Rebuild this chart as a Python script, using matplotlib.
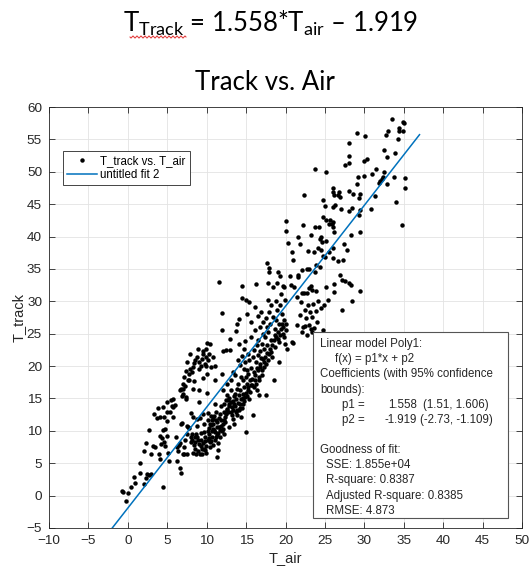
import numpy as np
import matplotlib
matplotlib.use("Agg")
import matplotlib.pyplot as plt
from matplotlib.patches import Rectangle

# Data (T_air, T_track)
t_air = [
    33.55, 34.95, 35.0, 34.4, 34.35, 34.95, 33.0, 32.75, 29.05, 30.1, 34.3, 28.0,
    32.55, 33.9, 32.9, 28.05, 28.05, 30.4, 29.9, 27.6, 23.7, 25.2, 31.5, 32.55,
    31.0, 29.9, 29.2, 33.8, 35.1, 32.4, 32.2, 32.0, 31.9, 29.1, 32.9, 35.1,
    26.0, 26.0, 26.75, 26.1, 26.6, 26.85, 28.1, 28.6, 29.3, 29.45, 31.35, 22.4,
    24.8, 26.3, 26.0, 24.95, 34.0, 27.0, 28.1, 28.4, 29.4, 29.35, 30.9, 20.0,
    24.8, 25.15, 25.65, 25.9, 26.0, 25.5, 22.2, 23.8, 24.3, 26.05, 26.15, 34.75,
    29.45, 20.0, 21.6, 23.25, 24.55, 24.4, 24.65, 25.1, 21.8, 28.3, 20.3, 27.45,
    24.1, 24.55, 25.5, 26.05, 27.85, 20.8, 22.8, 23.65, 24.8, 25.0, 26.0, 26.65,
    27.25, 21.0, 23.9, 24.4, 22.05, 22.75, 23.0, 23.7, 21.55, 21.55, 20.6, 19.3,
    26.85, 27.2, 27.6, 28.0, 28.3, 26.2, 20.7, 21.1, 19.8, 23.25, 23.0, 23.35,
    23.85, 25.2, 26.15, 29.45, 22.1, 22.4, 22.7,
    25.35, 28.4, 27.13, 17.6, 17.95, 17.95, 19.0,
    21.42, 21.97, 22.9, 23.45, 24.16, 22.47, 23.11, 23.87, 24.47, 24.92, 21.84, 22.6,
    23.36, 24.04, 21.42, 22.26, 22.94, 23.62, 22.05, 22.77, 23.32, 24.72, 20.79, 20.91,
    23.2, 22.47,
    -0.78, -0.66, -0.23, 0.06, 0.44, 0.91, 0.82, 1.59, 1.54, 2.0, 2.27, 2.44,
    2.69, 2.94, 2.1, 2.27, 2.65, 2.98, 3.24, 3.45, 3.36, 3.66, 3.79, 4.12,
    3.91, 4.08, 4.12, 4.2, 4.29, 4.42, 4.5, 4.5, 4.59, 4.63, 4.76, 4.76,
    4.93, 4.97, 4.97, 5.01, 5.14, 5.18, 5.35, 5.48, 5.6, 5.77, 5.69, 5.77,
    5.94, 6.11, 6.2, 6.28, 6.41, 6.49, 6.58, 6.62, 6.7, 6.79, 6.87, 6.91,
    6.79, 6.96, 7.04, 7.12, 6.96, 7.12, 7.16, 7.29, 7.33, 7.37, 7.41, 7.5,
    7.46, 7.46, 7.54, 7.62, 7.75, 7.8, 7.88, 7.92, 7.96, 8.05, 8.14, 8.22,
    8.22, 8.31, 8.39, 8.43, 8.52, 8.56, 8.65, 8.69, 8.73, 8.81, 8.9, 8.9,
    8.98, 9.03, 9.07, 9.15, 9.24, 9.32, 9.37, 9.49, 9.53, 9.58, 9.62, 9.66,
    9.75, 9.83, 9.92, 9.87, 9.96, 10.0, 10.04, 10.08, 10.13, 10.21, 10.25, 10.34,
    10.42, 10.47, 10.51, 10.59, 10.63, 10.68, 10.76, 10.85, 10.89, 10.93, 11.02, 11.06,
    11.1, 11.18, 11.23, 11.27, 11.31, 11.35, 11.4, 11.48, 11.52, 11.61, 11.69, 11.78,
    11.82, 11.86, 11.9, 11.95, 11.99, 12.03, 12.07, 12.11, 12.16, 12.2, 12.24, 12.33,
    12.37, 12.41, 12.45, 12.54, 12.58, 12.62, 12.66, 12.75, 12.79, 12.83, 12.87, 12.96,
    13.0, 13.04, 13.08, 13.13, 13.17, 13.21, 13.3, 13.34, 13.38, 13.42, 13.47, 13.51,
    13.59, 13.64, 13.72, 13.77, 13.81, 13.85, 13.89, 13.93, 13.98, 14.02, 14.06, 14.1,
    14.14, 14.19, 14.23, 14.27, 14.31, 14.36, 14.4, 14.44, 14.48, 14.53, 14.57, 14.61,
    14.65, 14.69, 14.74, 14.78, 14.82, 14.86, 14.91, 14.95, 14.99, 15.03, 15.07, 15.12,
    15.16, 15.2, 15.24, 15.29, 15.33, 15.37, 15.41, 15.5, 15.58, 15.62, 15.67, 15.75,
    15.84, 15.92, 15.96, 16.01, 16.09, 16.13, 16.17, 16.22, 16.26, 16.34, 16.39, 16.43,
    16.47, 16.51, 16.56, 16.64, 16.68, 16.72, 16.77, 16.81, 16.89, 16.94, 16.98, 17.07,
    17.11, 17.19, 17.28, 17.32, 17.4, 17.45, 17.53, 17.57, 17.61, 17.7, 17.74, 17.79,
    17.83, 17.91, 17.96, 18.04, 18.13, 18.21, 18.3, 18.38, 18.46, 18.55, 18.63, 18.67,
    18.76, 18.8, 18.88, 18.97, 19.05, 19.14, 19.22, 19.31, 19.39, 19.48, 19.56, 19.64,
    19.73, 19.81, 19.9, 19.98, 20.07, 20.15,
    8.73, 8.99, 9.24, 9.49, 9.66, 9.92, 10.13, 10.34, 10.51, 10.76, 11.02, 11.18,
    11.44, 11.69, 11.95, 7.97, 8.14, 8.39, 8.56, 8.86, 9.15, 9.41, 9.83, 10.17,
    10.38, 10.63, 10.85, 11.1, 11.35, 11.56, 11.73, 12.03, 12.2, 12.45, 12.62, 12.88,
    13.04, 13.3, 13.55, 13.72, 13.89, 14.1, 14.27, 14.44, 14.61, 14.78, 14.95, 15.12,
    15.29, 15.45, 15.62, 15.79, 15.96, 16.13, 16.3, 16.47, 16.64, 16.81, 16.98, 17.15,
    17.32, 17.48, 17.65, 17.82, 17.99, 18.16, 18.33, 18.5, 18.67, 18.84, 19.01, 19.17,
    19.34, 19.51, 19.68, 19.85, 20.02,
    6.62, 6.96, 7.29, 7.63, 7.8, 8.14, 8.31, 8.56, 8.73, 9.07, 9.24, 9.41,
    9.58, 9.75, 9.92, 10.13, 10.25, 10.42, 10.59, 10.76,
]
t_track = [
    58.15, 57.7, 57.5, 56.8, 56.35, 56.3, 56.35, 55.7, 56.0, 55.5, 55.0, 54.5,
    53.4, 52.95, 52.3, 52.4, 51.4, 52.0, 51.6, 51.0, 50.5, 50.0, 50.4, 50.0,
    49.7, 49.4, 49.2, 49.2, 49.1, 49.2, 48.9, 48.6, 48.3, 48.1, 48.1, 47.55,
    47.5, 46.8, 46.9, 46.4, 46.4, 46.05, 47.1, 46.6, 46.0, 46.5, 46.25, 46.4,
    45.6, 44.9, 44.6, 44.7, 45.4, 44.2, 43.9, 44.45, 44.1, 43.3, 44.3, 42.4,
    43.0, 42.6, 42.6, 42.0, 42.3, 42.0, 41.8, 41.4, 41.4, 41.4, 40.75, 41.8,
    40.75, 40.9, 40.0, 40.2, 40.0, 39.6, 39.2, 39.25, 38.9, 40.3, 39.05, 38.9,
    38.2, 37.9, 37.6, 38.2, 37.9, 37.6, 37.7, 37.6, 37.05, 36.8, 36.7, 36.3,
    36.4, 36.4, 35.6, 35.3, 34.9, 35.0, 34.95, 34.6, 34.0, 33.75, 33.9, 33.85,
    34.1, 33.3, 33.2, 32.8, 32.5, 32.7, 32.5, 32.25, 32.25, 32.4, 32.0, 31.75,
    31.65, 32.15, 31.5, 31.6, 31.3, 31.3, 31.3,
    30.25, 30.05, 28.7, 35.96, 35.19, 34.48, 34.57,
    30.71, 29.94, 29.43, 29.54, 30.05, 28.66, 28.3, 28.5, 28.92, 29.43, 27.89, 27.38,
    27.63, 26.85, 26.34, 26.08, 26.34, 25.83, 25.31, 24.8, 25.21, 25.57, 23.67, 23.52,
    25.77, 26.19,
    0.72, 0.5, -0.88, 0.46, 1.34, 1.96, 2.88, 3.55, 5.04, 1.85, 2.78, 3.29,
    3.14, 3.4, 6.9, 8.18, 10.2, 6.43, 7.62, 7.51, 12.56, 12.04, 13.48, 12.15,
    6.48, 5.71, 9.16, 8.03, 8.96, 13.69, 10.09, 1.39, 12.15, 8.23, 10.34, 7.62,
    11.53, 12.87, 14.51, 9.16, 6.64, 5.4, 12.97, 14.82, 13.79, 14.93, 12.15, 13.69,
    14.05, 9.06, 7.51, 5.3, 6.9, 7.77, 8.18, 4.32, 3.5, 11.12, 11.22, 15.44,
    16.52, 16.47, 17.29, 18.32, 6.48, 6.48, 7.57, 8.54, 14.98, 15.23, 19.25, 20.64,
    10.81, 9.57, 6.48, 10.6, 10.5, 17.8, 21.82, 19.56, 12.76, 8.29, 8.65, 6.59,
    12.15, 16.52, 20.48, 17.7, 9.06, 8.23, 9.57, 6.48, 11.89, 10.7, 8.54, 22.65,
    19.61, 16.26, 14.41, 12.04, 9.68, 8.65, 7.26, 22.34, 18.22, 12.56, 11.12, 9.83,
    9.06, 8.44, 6.59, 20.07, 21.41, 23.57, 18.84, 15.85, 12.76, 11.63, 10.5, 9.57,
    8.29, 7.51, 12.35, 10.86, 9.98, 9.06, 11.01, 11.89, 12.25, 10.19, 19.97, 17.81,
    14.2, 12.92, 11.63, 10.6, 9.32, 5.97, 7.0, 9.68, 32.99, 12.04, 12.66, 10.81,
    13.79, 11.63, 25.53, 28.2, 18.84, 16.26, 10.34, 22.34, 9.57, 12.92, 14.1, 11.38,
    12.15, 14.82, 22.44, 13.43, 15.49, 17.29, 14.72, 12.92, 14.1, 10.6, 15.13, 24.19,
    22.44, 17.81, 16.26, 14.46, 13.69, 12.4, 14.61, 19.09, 11.79, 15.39, 11.01, 14.2,
    18.68, 15.7, 14.98, 25.42, 13.28, 16.52, 26.45, 20.9, 14.31, 17.29, 23.47, 15.49,
    27.33, 13.59, 20.12, 16.26, 14.93, 12.15, 18.32, 21.51, 30.57, 32.32, 14.2, 17.81,
    15.75, 19.61, 22.7, 16.78, 15.23, 20.64, 23.88, 9.83, 30.26, 18.32, 17.29, 19.46,
    28.1, 16.26, 21.92, 18.84, 14.98, 20.9, 29.85, 17.81, 24.5, 19.76, 26.81, 17.04,
    21.41, 12.4, 22.54, 19.04, 29.13, 25.53, 17.81, 32.63, 20.64, 23.21, 19.76, 16.26,
    21.67, 27.69, 24.09, 15.49, 18.32, 19.86, 26.04, 22.29, 21.31, 28.36, 23.37, 19.35,
    25.01, 26.81, 22.7, 20.64, 24.5, 21.46, 15.49, 27.49, 26.04, 23.21, 32.84, 30.26,
    25.27, 21.92, 28.36, 26.55, 23.98, 29.39, 21.41, 27.59, 32.22, 17.91, 24.76, 25.79,
    30.05, 27.07, 32.84, 28.62, 24.24, 20.59, 26.55, 29.39, 31.19, 25.79, 28.1, 32.32,
    25.01, 27.18, 30.26, 23.47, 26.55, 22.7,
    9.06, 7.93, 7.62, 8.13, 7.26, 7.72, 8.65, 8.96, 8.44, 7.77, 8.54, 9.06,
    8.13, 9.06, 9.98, 9.06, 9.47, 7.82, 7.26, 6.9, 6.48, 6.48, 7.1, 9.98,
    11.01, 11.73, 10.34, 9.83, 11.37, 10.6, 10.19, 11.12, 11.73, 12.66, 13.18, 13.79,
    12.87, 13.28, 13.79, 12.92, 12.4, 13.18, 14.1, 13.59, 15.13, 14.62, 15.85, 15.34,
    16.78, 16.01, 17.04, 18.06, 16.78, 18.58, 17.29, 19.35, 17.81, 20.38, 18.58, 21.15,
    19.87, 20.38, 22.03, 20.9, 22.7, 22.18, 23.21, 23.98, 22.95, 24.5, 25.27, 23.73,
    24.76, 26.56, 26.04, 24.5, 25.53,
    16.26, 15.75, 16.88, 17.81, 18.84, 19.09, 19.87, 20.9, 21.41, 20.64, 19.97, 21.15,
    21.92, 20.38, 22.7, 20.9, 21.82, 23.47, 19.87, 21.41,
]

# Poly1 fit results
p1, p2 = 1.558, -1.919
fit_x = [-2.0, 37.0]
fit_text = {
    "model": "Linear model Poly1:",
    "formula": "f(x) = p1*x + p2",
    "coef1": "Coefficients (with 95% confidence",
    "coef2": "bounds):",
    "p1": ("p1 =", "1.558", "(1.51, 1.606)"),
    "p2": ("p2 =", "-1.919", "(-2.73, -1.109)"),
    "gof": ["Goodness of fit:", "SSE: 1.855e+04", "R-square: 0.8387",
            "Adjusted R-square: 0.8385", "RMSE: 4.873"],
}

W, H = 530, 572
plt.rcParams["font.family"] = ["Liberation Sans", "DejaVu Sans"]
plt.rcParams["mathtext.fontset"] = "custom"
plt.rcParams["mathtext.rm"] = "Lato"

fig = plt.figure(figsize=(W / 100, H / 100), dpi=100)
fig.patch.set_facecolor("white")

# pixel -> figure fraction
def fx(px):
    return px / W

def fy(py):
    return 1 - py / H

ax = fig.add_axes([fx(49), fy(528), (522 - 49) / W, (528 - 107) / H])
dark = "#262626"

ax.plot(t_air, t_track, "o", color="black", markersize=3.2, markeredgewidth=0,
        label="T_track vs. T_air", zorder=3)
fx_line = np.array(fit_x)
ax.plot(fx_line, p1 * fx_line + p2, color="#0072BD", linewidth=1.1,
        label="untitled fit 2", zorder=4)

ax.set_xlim(-10, 50)
ax.set_ylim(-5, 60)
ax.set_xticks(np.arange(-10, 51, 5))
ax.set_yticks(np.arange(-5, 61, 5))
ax.grid(True, color="#e3e3e3", linewidth=0.6)
ax.set_axisbelow(True)
ax.tick_params(direction="in", top=True, right=True, length=4, width=0.6,
               colors=dark, labelsize=9.7, pad=5)
for s in ax.spines.values():
    s.set_color(dark)
    s.set_linewidth(0.6)
ax.set_xlabel("T_air", fontsize=10.5, color=dark, labelpad=3)
ax.set_ylabel("T_track", fontsize=10.5, color=dark, labelpad=1)

leg = ax.legend(loc="upper left", bbox_to_anchor=((63 - 49) / 473, (528 - 151) / 421),
                borderaxespad=0, fontsize=8.3, handlelength=2.6, handletextpad=0.3,
                borderpad=0.35, labelspacing=0.2, fancybox=False, framealpha=1)
leg.get_frame().set_edgecolor(dark)
leg.get_frame().set_linewidth(0.6)

# Fit results box
box = Rectangle((fx(313), fy(518)), fx(508) - fx(313), fy(332) - fy(518),
                transform=fig.transFigure, facecolor="white", edgecolor="#555555",
                linewidth=0.8, zorder=5)
fig.add_artist(box)
tk = dict(fontsize=8.3, color=dark, va="center", zorder=6)
rows = [344, 359.2, 374.4, 389.6, 404.8, 420, 450.2, 465.3, 480.4, 495.6, 510.8]
fig.text(fx(320), fy(rows[0]), fit_text["model"], **tk)
fig.text(fx(335), fy(rows[1]), fit_text["formula"], **tk)
fig.text(fx(320), fy(rows[2]), fit_text["coef1"], **tk)
fig.text(fx(320), fy(rows[3]), fit_text["coef2"], **tk)
for r, key, ci_x in [(rows[4], "p1", 423), (rows[5], "p2", 420)]:
    name, val, ci = fit_text[key]
    fig.text(fx(342), fy(r), name, **tk)
    fig.text(fx(417), fy(r), val, ha="right", **tk)
    fig.text(fx(ci_x), fy(r), ci, **tk)
fig.text(fx(320), fy(rows[6]), fit_text["gof"][0], **tk)
for r, line in zip(rows[7:], fit_text["gof"][1:]):
    fig.text(fx(326), fy(r), line, **tk)

# Titles
fig.text(0.51, fy(32), r"$\mathregular{T_{Track}}$ = 1.558*$\mathregular{T_{air}}$ – 1.919",
         ha="center", va="baseline", fontsize=18.5, family="Lato", color="black")
fig.text(0.5, fy(90), "Track vs. Air", ha="center", va="baseline", fontsize=18.5,
         family="Lato", color="black")

# spell-check squiggle under "Track"
sq_x = np.linspace(130, 186, 120)
sq_y = 37 + 1.0 * np.sin((sq_x - 130) * 2 * np.pi / 4)
fig.add_artist(plt.Line2D(fx(sq_x), fy(sq_y), transform=fig.transFigure,
                          color="#e03030", linewidth=0.7))

fig.savefig("out.png", dpi=100)
